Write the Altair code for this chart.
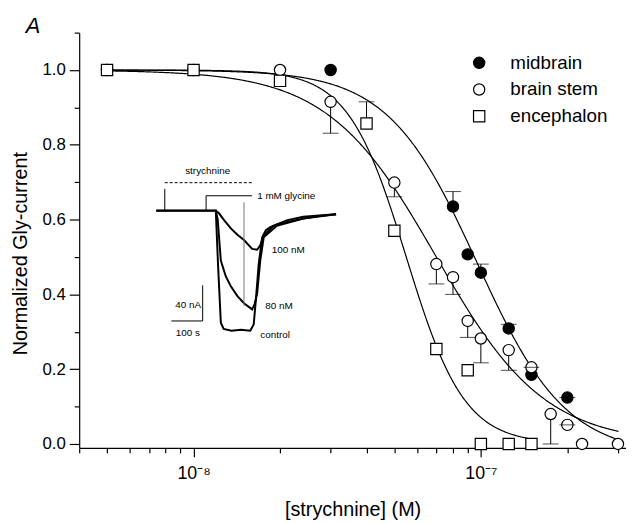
import math
import altair as alt
import pandas as pd

# ---------------- data ----------------
series_names = ["midbrain", "brain stem", "encephalon"]

mid_conc = [3e-8, 8e-8, 9e-8, 1e-7, 1.25e-7, 1.5e-7, 2e-7]
mid_val = [1.0, 0.635, 0.507, 0.458, 0.309, 0.185, 0.124]

bs_conc = [5e-9, 1e-8, 2e-8, 3e-8, 5e-8, 7e-8, 8e-8, 9e-8, 1e-7, 1.25e-7,
           1.5e-7, 1.75e-7, 2e-7, 2.25e-7, 3e-7]
bs_val = [1.0, 1.0, 1.0, 0.915, 0.699, 0.481, 0.446, 0.329, 0.282, 0.251,
          0.205, 0.080, 0.051, 0.0, 0.0]

enc_conc = [5e-9, 1e-8, 2e-8, 4e-8, 5e-8, 7e-8, 9e-8, 1e-7, 1.25e-7, 1.5e-7]
enc_val = [1.0, 1.0, 0.971, 0.857, 0.57, 0.254, 0.197, 0.0, 0.0, 0.0]

# one-sided error bars: series, concentration, mean, end of bar
err_series = ["brain stem"] * 10 + ["midbrain"] * 4 + ["encephalon"]
err_conc = [3e-8, 5e-8, 7e-8, 8e-8, 9e-8, 1e-7, 1.25e-7, 1.5e-7, 1.75e-7, 2e-7,
            8e-8, 1e-7, 1.25e-7, 2e-7,
            4e-8]
err_mean = [0.915, 0.699, 0.481, 0.446, 0.329, 0.282, 0.251, 0.205, 0.080, 0.051,
            0.635, 0.458, 0.309, 0.124,
            0.857]
err_end = [0.831, 0.661, 0.428, 0.400, 0.285, 0.217, 0.197, 0.205, 0.0, 0.051,
           0.675, 0.481, 0.320, 0.124,
           0.915]

# logistic (Hill) fit parameters of the drawn curves
fit_x0 = [9.7e-8, 7.0e-8, 5.5e-8]
fit_slope = [2.8, 2.3, 4.3]
fit_bottom = [-0.03, 0.0, 0.0]
fit_start = [5e-9, 5e-9, 5e-9]
fit_end = [3e-7, 3e-7, 1.5e-7]

# axis ticks
x_ticks = [4e-9, 5e-9, 6e-9, 7e-9, 8e-9, 9e-9,
           1e-8, 2e-8, 3e-8, 4e-8, 5e-8, 6e-8, 7e-8, 8e-8, 9e-8,
           1e-7, 2e-7, 3e-7]
x_major = [1e-8, 1e-7]
x_major_labels = ["10\u207b\u2078", "10\u207b\u2077"]
y_ticks = [0.0, 0.1, 0.2, 0.3, 0.4, 0.5, 0.6, 0.7, 0.8, 0.9, 1.0, 1.1]

# inset: current traces (time in s, current in nA)
ctrl_t = [0, 190, 197, 206, 215, 240, 270, 300, 311, 318, 327, 338, 350, 364, 390, 416, 469, 520, 574]
ctrl_i = [0, 0, -60, -126, -133, -135, -134, -135, -128, -100, -60, -30, -22, -18.5, -15, -13, -9, -6, -4]
n80_t = [0, 190, 196, 206, 222, 238, 259, 280, 306, 314, 322, 332, 343, 385, 469, 574]
n80_i = [0, 0, -10, -56, -74, -85, -96, -104, -111, -105, -93, -56, -30, -17, -9, -4]
n100_t = [0, 190, 200, 217, 238, 259, 280, 306, 322, 332, 343, 374, 416, 469, 574]
n100_i = [0, 0, -3, -11, -20, -27, -33, -43, -44, -39, -28, -17, -11, -7, -4]

# inset segments: t1, t2, i1, i2
seg_solid = [(27, 27, 0, 24.4), (159, 159, 0, 16.7), (159, 306, 16.7, 16.7),
             (148, 148, -84, -124), (48, 148, -124, -124)]
seg_dash = [(27, 306, 31.4, 31.4)]
seg_gray = [(280, 280, 9.3, -107)]

inset_left_text = [("1 mM glycine", 322, 16.7), ("100 nM", 369, -44),
                   ("80 nM", 348, -107), ("control", 332, -140)]
inset_center_text = [("strychnine", 164, 44), ("100 s", 101, -137)]
inset_right_text = [("40 nA", 143, -106)]

# ---------------- tables ----------------
pts = pd.DataFrame({
    "series": ["midbrain"] * len(mid_conc) + ["brain stem"] * len(bs_conc) + ["encephalon"] * len(enc_conc),
    "conc": mid_conc + bs_conc + enc_conc,
    "value": mid_val + bs_val + enc_val,
})
pts["order"] = pts["series"].map({s: i for i, s in enumerate(series_names)})
err = pd.DataFrame({"series": err_series, "conc": err_conc, "value": err_mean, "end": err_end})

FONT = "Liberation Sans"

xscale = alt.Scale(type="log", domain=[4e-9, 3.2e-7], nice=False)
yscale = alt.Scale(domain=[-0.0106, 1.1], nice=False, zero=False)

x_label_expr = " : ".join(
    f"abs(datum.value/{v!r} - 1) < 0.001 ? '{lab}'" for v, lab in zip(x_major, x_major_labels)
) + " : ''"
x_major_test = "abs(log(datum.value)/LN10 - round(log(datum.value)/LN10)) < 0.001"
y_major_test = "abs(datum.value*5 - round(datum.value*5)) < 0.001 && datum.value < 1.05"

xaxis = alt.Axis(values=x_ticks, labelExpr=x_label_expr, grid=False,
                 tickSize={"condition": {"test": x_major_test, "value": 9}, "value": 5},
                 labelPadding=8, labelFontSize=18, labelFont=FONT,
                 title="[strychnine] (M)", titleFontSize=20, titleFont=FONT,
                 titleFontWeight="normal", titleY=68, titleBaseline="alphabetic")
yaxis = alt.Axis(values=y_ticks,
                 labelExpr=f"{y_major_test} ? format(datum.value, '.1f') : ''",
                 grid=False,
                 tickSize={"condition": {"test": y_major_test, "value": 10}, "value": 5},
                 labelPadding=4, labelFontSize=17, labelFont=FONT,
                 title="Normalized Gly-current", titleFontSize=20, titleFont=FONT,
                 titleFontWeight="normal", titleX=-53, titleY=223,
                 titleBaseline="alphabetic", titleAlign="center")


def X(field="conc"):
    return alt.X(f"{field}:Q", scale=xscale, axis=xaxis)


def Y(field="value"):
    return alt.Y(f"{field}:Q", scale=yscale, axis=yaxis)


layers = []
for name, x0, p, b, xs, xe in zip(series_names, fit_x0, fit_slope, fit_bottom, fit_start, fit_end):
    lo, hi = math.log10(xs), math.log10(xe)
    layers.append(
        alt.Chart(alt.sequence(lo, hi + 0.0025, 0.0025, as_="lx"))
        .transform_calculate(
            conc="pow(10, datum.lx)",
            value=f"({b}) + (1 - ({b})) / (1 + pow(datum.conc / {x0}, {p}))",
        )
        .mark_line(color="black", strokeWidth=1.2)
        .encode(x=X(), y=Y())
    )

stems = alt.Chart(err).mark_rule(color="black", strokeWidth=1).encode(
    x=X(), y=Y("value"), y2="end:Q")

point_layer = alt.Chart(pts).mark_point(filled=True, stroke="black", strokeWidth=1.2, opacity=1).encode(
    x=X(), y=Y(),
    shape=alt.Shape("series:N", scale=alt.Scale(domain=series_names, range=["circle", "circle", "square"]),
                    legend=alt.Legend(title=None, orient="none", legendX=395, legendY=21,
                                      labelFontSize=19, labelFont=FONT, labelOffset=22,
                                      rowPadding=7, symbolStrokeColor="black",
                                      symbolStrokeWidth=1.2, padding=0)),
    fill=alt.Fill("series:N", scale=alt.Scale(domain=series_names, range=["black", "white", "white"])),
    size=alt.Size("series:N", scale=alt.Scale(domain=series_names, range=[130, 130, 90])),
    order=alt.Order("order:Q"),
)

caps = alt.Chart(err).mark_tick(orient="horizontal", color="black", size=16, thickness=1).encode(
    x=X(), y=Y("end"))

letter = alt.Chart(alt.Data(values=[{"label": "A"}])).mark_text(
    align="left", baseline="alphabetic", fontSize=22, fontStyle="italic", font=FONT, color="black"
).encode(x=alt.value(-54), y=alt.value(0), text="label:N")

main = alt.layer(*layers, stems, point_layer, caps, letter)

# ---------------- inset ----------------
tr = pd.DataFrame({
    "trace": ["control"] * len(ctrl_t) + ["80 nM"] * len(n80_t) + ["100 nM"] * len(n100_t),
    "t": ctrl_t + n80_t + n100_t,
    "I": ctrl_i + n80_i + n100_i,
})
ix = alt.Scale(domain=[0, 600], range=[78, 268])
iy = alt.Scale(domain=[-200, 60], range=[360, 126])


def IX(f="t"):
    return alt.X(f"{f}:Q", scale=ix, axis=None)


def IY(f="I"):
    return alt.Y(f"{f}:Q", scale=iy, axis=None)


traces = alt.Chart(tr).mark_line(color="black", strokeWidth=2).encode(
    x=IX(), y=IY(), detail="trace:N", order="t:Q")


def segdf(rows):
    return pd.DataFrame(rows, columns=["t1", "t2", "i1", "i2"])


seg1 = alt.Chart(segdf(seg_solid)).mark_rule(color="black", strokeWidth=1).encode(
    x=IX("t1"), x2="t2:Q", y=IY("i1"), y2="i2:Q")
seg2 = alt.Chart(segdf(seg_dash)).mark_rule(color="black", strokeWidth=1, strokeDash=[3, 2]).encode(
    x=IX("t1"), x2="t2:Q", y=IY("i1"), y2="i2:Q")
seg3 = alt.Chart(segdf(seg_gray)).mark_rule(color="#777777", strokeWidth=1).encode(
    x=IX("t1"), x2="t2:Q", y=IY("i1"), y2="i2:Q")


def textlayer(rows, align):
    df = pd.DataFrame(rows, columns=["label", "t", "I"])
    return alt.Chart(df).mark_text(align=align, baseline="middle", fontSize=10, font=FONT,
                                   color="black").encode(x=IX(), y=IY(), text="label:N")


inset = alt.layer(traces, seg1, seg2, seg3,
                  textlayer(inset_left_text, "left"),
                  textlayer(inset_center_text, "center"),
                  textlayer(inset_right_text, "right"))

chart = (
    alt.layer(main, inset)
    .resolve_scale(x="independent", y="independent")
    .properties(width=553, height=420, autosize=alt.AutoSizeParams(type="none"),
                padding={"left": 72, "top": 22, "right": 0, "bottom": 72})
    .configure_view(strokeWidth=0)
    .configure_axis(domainColor="black", tickColor="black", labelColor="black",
                    titleColor="black", domainWidth=1.2, tickWidth=1.2)
    .configure_legend(labelColor="black")
)

chart.save("out.html", embed_options={"renderer": "svg", "actions": False})
